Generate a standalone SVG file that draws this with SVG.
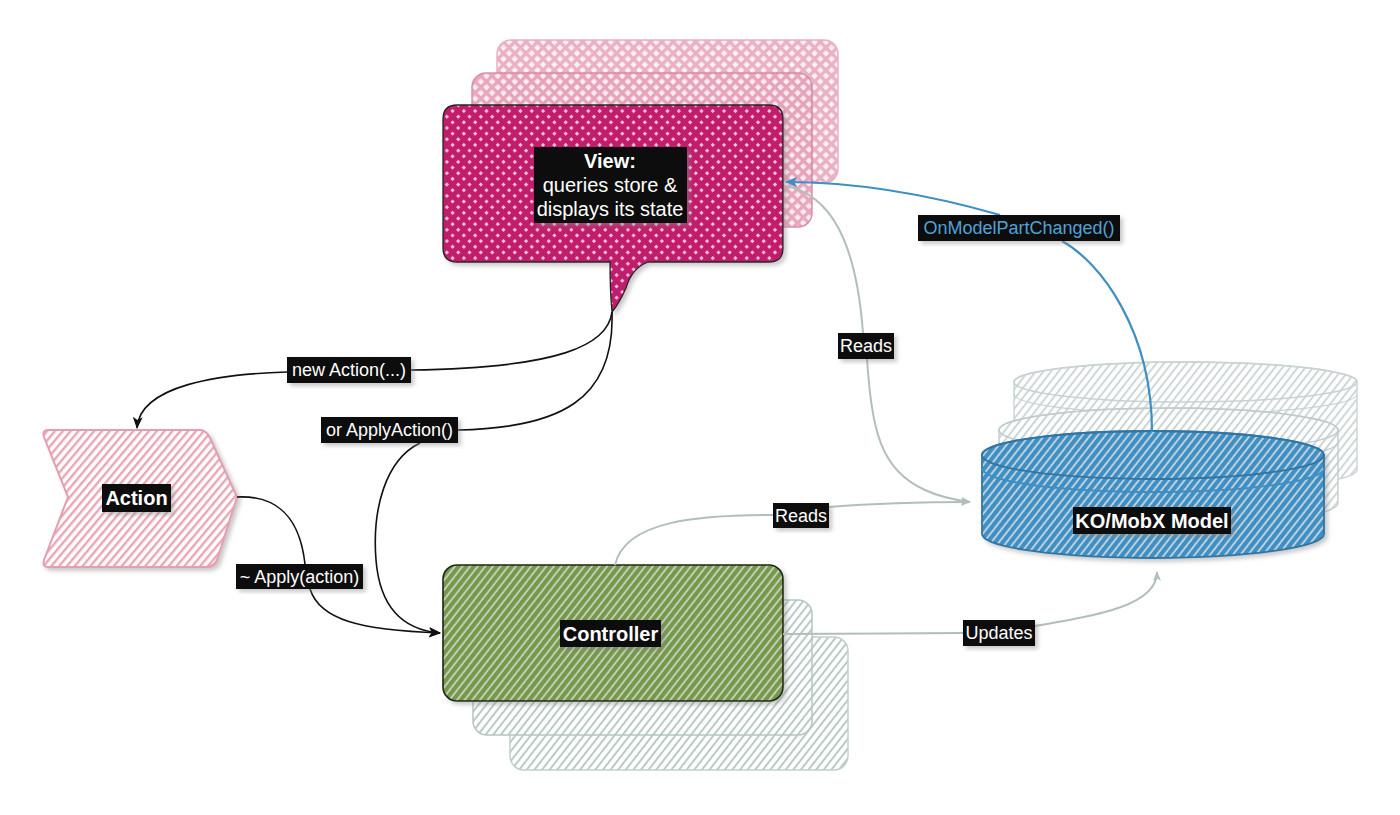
<svg xmlns="http://www.w3.org/2000/svg" width="1400" height="815" viewBox="0 0 1400 815">
<style>
.lbl{font-family:"Liberation Sans",Arial,sans-serif;font-size:18px;fill:#ffffff;text-anchor:middle}
.big{font-family:"Liberation Sans",Arial,sans-serif;font-size:20px;font-weight:bold;fill:#ffffff;text-anchor:middle}
.box{fill:#0a0a0a;filter:url(#sh)}
.blk{fill:none;stroke:#111;stroke-width:1.6}
.gry{fill:none;stroke:#b2bebe;stroke-width:2}
.blu{fill:none;stroke:#3d8fc4;stroke-width:2.2}
</style>
<defs>
<filter id="sh" x="-10%" y="-10%" width="130%" height="130%">
<feDropShadow dx="3" dy="3" stdDeviation="2" flood-color="#888" flood-opacity="0.45"/>
</filter>
<pattern id="pView" width="8" height="8" patternUnits="userSpaceOnUse" patternTransform="rotate(45)">
<rect width="8" height="8" fill="#eec0d2"/>
<rect x="0" y="0" width="8" height="5" fill="#c21f6d"/>
<rect x="0" y="0" width="5" height="8" fill="#c21f6d"/>
</pattern>
<pattern id="pViewB" width="8" height="8" patternUnits="userSpaceOnUse" patternTransform="rotate(45)">
<rect width="8" height="8" fill="#fbeef2"/>
<rect x="0" y="0" width="8" height="3.4" fill="#e7a3b9"/>
<rect x="0" y="0" width="3.4" height="8" fill="#e7a3b9"/>
</pattern>
<pattern id="pAct" width="6" height="6" patternUnits="userSpaceOnUse" patternTransform="rotate(40)">
<rect width="6" height="6" fill="#ffffff"/>
<rect x="0" y="0" width="2.4" height="6" fill="#e8a6b6"/>
</pattern>
<pattern id="pCtl" width="6" height="6" patternUnits="userSpaceOnUse" patternTransform="rotate(38)">
<rect width="6" height="6" fill="#cdd6c8"/>
<rect x="0" y="0" width="4.3" height="6" fill="#75984a"/>
</pattern>
<pattern id="pCtlB" width="6" height="6" patternUnits="userSpaceOnUse" patternTransform="rotate(38)">
<rect width="6" height="6" fill="#ffffff"/>
<rect x="0" y="0" width="2" height="6" fill="#b9cbc4"/>
</pattern>
<pattern id="pCyl" width="6" height="6" patternUnits="userSpaceOnUse" patternTransform="rotate(38)">
<rect width="6" height="6" fill="#c9d5dd"/>
<rect x="0" y="0" width="4.2" height="6" fill="#3d8fc4"/>
</pattern>
<pattern id="pCylB" width="6" height="6" patternUnits="userSpaceOnUse" patternTransform="rotate(38)">
<rect width="6" height="6" fill="#ffffff"/>
<rect x="0" y="0" width="1.8" height="6" fill="#c5d0d0"/>
</pattern>
<marker id="arB" viewBox="0 0 12 10" refX="11" refY="5" markerWidth="12" markerHeight="10" markerUnits="userSpaceOnUse" orient="auto">
<path d="M0,0 L12,5 L0,10 L3,5 Z" fill="#111"/>
</marker>
<marker id="arU" viewBox="0 0 12 10" refX="11" refY="5" markerWidth="12" markerHeight="10" markerUnits="userSpaceOnUse" orient="auto">
<path d="M0,0 L12,5 L0,10 L3,5 Z" fill="#3d8fc4"/>
</marker>
<marker id="arG" viewBox="0 0 12 10" refX="11" refY="5" markerWidth="10" markerHeight="8" markerUnits="userSpaceOnUse" orient="auto">
<path d="M0,0 L12,5 L0,10 L3,5 Z" fill="#b2bebe"/>
</marker>
</defs>
<rect width="1400" height="815" fill="#ffffff"/>

<g id="view">
<rect x="497" y="40" width="341" height="143" rx="14" fill="url(#pViewB)" stroke="#e7a3b9" stroke-width="1.5" opacity="0.85"/>
<rect x="472" y="73" width="340" height="154" rx="14" fill="url(#pViewB)" stroke="#d98aa4" stroke-width="1.5" opacity="0.95"/>
<path d="M457,105 H769 Q783,105 783,119 V248 Q783,262 769,262 H648 Q632,268 626,288 Q619,304 612,312 Q610,290 610,262 H457 Q443,262 443,248 V119 Q443,105 457,105 Z" fill="url(#pView)" stroke="#222" stroke-width="1.3" filter="url(#sh)"/>
<rect class="box" x="534" y="147" width="153" height="76"/>
<text class="big" x="610" y="168">View:</text>
<text class="big" x="610" y="192" style="font-weight:normal">queries store &amp;</text>
<text class="big" x="610" y="216" style="font-weight:normal">displays its state</text>
</g>

<g id="action">
<path d="M48,430 H200 Q206,430 210,438 L237,497 L217,560 Q214,567 206,567 H48 Q42,567 44,560 L68,497 L44,437 Q42,430 48,430 Z" fill="url(#pAct)" stroke="#e59db0" stroke-width="2" filter="url(#sh)"/>
<rect class="box" x="102" y="484" width="69" height="28"/>
<text class="big" x="136.5" y="505">Action</text>
</g>

<g id="controller">
<rect x="510" y="637" width="338" height="133" rx="14" fill="url(#pCtlB)" stroke="#c2d0cc" stroke-width="1.5"/>
<rect x="473" y="600" width="339" height="135" rx="14" fill="url(#pCtlB)" stroke="#b4c6c0" stroke-width="1.5"/>
<rect x="443" y="565" width="340" height="136" rx="14" fill="url(#pCtl)" stroke="#1c2616" stroke-width="1.6" filter="url(#sh)"/>
<rect class="box" x="560" y="620" width="101" height="27"/>
<text class="big" x="610.5" y="641">Controller</text>
</g>

<g id="model">
<path d="M1014,382 A171.5,20 0 0 1 1357,382 V470 A171.5,20 0 0 1 1014,470 Z" fill="url(#pCylB)" stroke="#c8d2d2" stroke-width="1.5" opacity="0.9"/>
<ellipse cx="1185.5" cy="382" rx="171.5" ry="20" fill="none" stroke="#c8d2d2" stroke-width="1.5"/>
<path d="M1014,394 A171.5,20 0 0 0 1357,394" fill="none" stroke="#c8d2d2" stroke-width="1.2"/>
<path d="M999,430 A169.5,22 0 0 1 1338,430 V503 A169.5,22 0 0 1 999,503 Z" fill="url(#pCylB)" stroke="#c0cccc" stroke-width="1.5" opacity="0.9"/>
<ellipse cx="1168.5" cy="430" rx="169.5" ry="22" fill="none" stroke="#c0cccc" stroke-width="1.5"/>
<path d="M999,442 A169.5,22 0 0 0 1338,442" fill="none" stroke="#c0cccc" stroke-width="1.2"/>
<path d="M982,455 A171,24 0 0 1 1324,455 V534 A171,24 0 0 1 982,534 Z" fill="url(#pCyl)" stroke="#2f76a6" stroke-width="1.8" filter="url(#sh)"/>
<ellipse cx="1153" cy="455" rx="171" ry="24" fill="none" stroke="#2f76a6" stroke-width="1.8"/>
<path d="M982,468 A171,24 0 0 0 1324,468" fill="none" stroke="#3d8fc4" stroke-width="2"/>
<rect class="box" x="1073" y="507" width="158" height="27"/>
<text class="big" x="1152" y="528">KO/MobX Model</text>
</g>

<g id="connectors">
<path class="blk" d="M612,312 C608,345 560,368 411,370"/>
<path class="blk" d="M287,372 C220,374 140,385 137,428" marker-end="url(#arB)"/>
<path class="blk" d="M612,312 C615,400 560,428 458,430"/>
<path class="blk" d="M420,443 C385,460 372,510 376,560 C380,610 405,630 440,633" marker-end="url(#arB)"/>
<path class="blk" d="M237,497 C280,495 300,520 305,564"/>
<path class="blk" d="M310,589 C320,620 360,630 440,633" marker-end="url(#arB)"/>
<path class="blu" d="M1152,432 C1152,330 1100,262 1062,241"/>
<path class="blu" d="M1000,215 C920,192 850,182 786,182" marker-end="url(#arU)"/>
<path class="gry" d="M786,186 C830,195 856,240 863,333"/>
<path class="gry" d="M867,359 C872,430 880,470 925,490 C940,497 955,500 970,502" marker-end="url(#arG)"/>
<path class="gry" d="M615,565 C625,520 700,515 773,515"/>
<path class="gry" d="M829,507 C880,503 930,502 970,502" marker-end="url(#arG)"/>
<path class="gry" d="M783,634 C850,634 900,633 963,633"/>
<path class="gry" d="M1035,626 C1100,615 1157,605 1157,572" marker-end="url(#arG)"/>

<rect class="box" x="287" y="357" width="124" height="26"/>
<text class="lbl" x="349" y="376">new Action(...)</text>
<rect class="box" x="321" y="417" width="137" height="26"/>
<text class="lbl" x="389.5" y="436">or ApplyAction()</text>
<rect class="box" x="236" y="564" width="127" height="25"/>
<text class="lbl" x="299.5" y="583">~ Apply(action)</text>
<rect class="box" x="838" y="333" width="56" height="26"/>
<text class="lbl" x="866" y="352">Reads</text>
<rect class="box" x="773" y="503" width="56" height="25"/>
<text class="lbl" x="801" y="522">Reads</text>
<rect class="box" x="963" y="620" width="72" height="26"/>
<text class="lbl" x="999" y="639">Updates</text>
<rect class="box" x="918" y="215" width="202" height="26"/>
<text class="lbl" x="1019" y="234" style="fill:#4ea3d8">OnModelPartChanged()</text>
</g>
</svg>
